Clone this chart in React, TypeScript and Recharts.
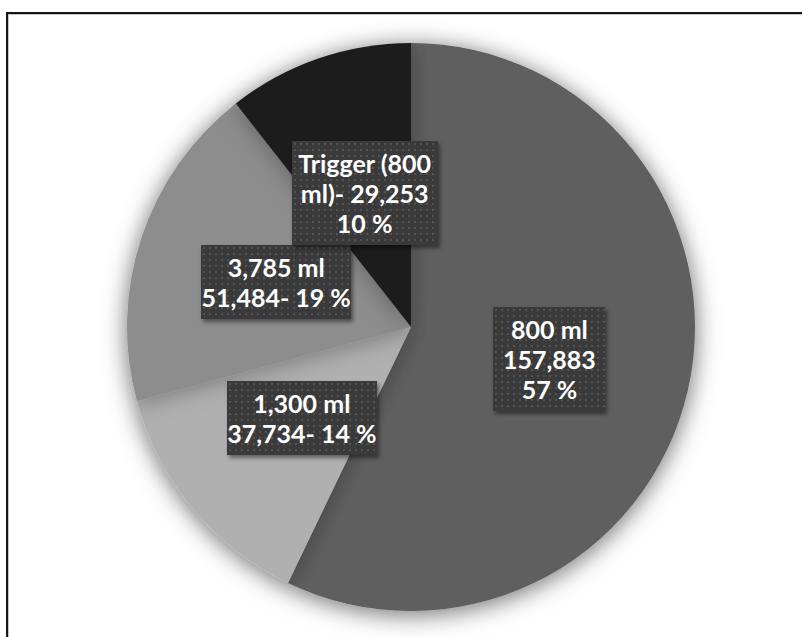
import React from "react";
import { PieChart, Pie, Cell } from "recharts";

// Bottle sizes sold, clockwise from 12 o'clock
const categories = ["800 ml", "1,300 ml", "3,785 ml", "Trigger (800 ml)"];
const bottleCounts = [157883, 37734, 51484, 29253];
const sharePercents = [57, 14, 19, 10];
const sliceColors = ["#5f5f5f", "#b0b0b0", "#8d8d8d", "#1e1e1e"];

const fmt = (n: number) => n.toLocaleString("en-US");

// Label text, wrapped the way the boxes break it
const labelLines: string[][] = [
  [categories[0], fmt(bottleCounts[0]), `${sharePercents[0]} %`],
  [categories[1], `${fmt(bottleCounts[1])}- ${sharePercents[1]} %`],
  [categories[2], `${fmt(bottleCounts[2])}- ${sharePercents[2]} %`],
  ["Trigger (800", `ml)- ${fmt(bottleCounts[3])}`, `${sharePercents[3]} %`],
];

const pieData = categories.map((name, i) => ({ name, value: bottleCounts[i] }));

// label box widths (px), one per slice
const boxWidths = [112, 150, 150, 146];

const RAD = Math.PI / 180;

const BoxLabel = (props: any) => {
  const { cx, cy, midAngle, outerRadius, index } = props;
  const r = outerRadius * 0.5;
  const x = cx + r * Math.cos(-midAngle * RAD);
  const y = cy + r * Math.sin(-midAngle * RAD);
  const w = 260;
  const h = 160;
  return (
    <foreignObject x={x - w / 2} y={y - h / 2} width={w} height={h}>
      <div
        style={{
          width: "100%",
          height: "100%",
          display: "flex",
          alignItems: "center",
          justifyContent: "center",
        }}
      >
        <div
          style={{
            boxSizing: "border-box",
            width: boxWidths[index],
            backgroundColor: "#3a3a3a",
            backgroundImage:
              "radial-gradient(circle, rgba(255,255,255,0.13) 0.8px, transparent 1.3px)",
            backgroundSize: "6px 6px",
            boxShadow: "2px 3px 4px rgba(0,0,0,0.45)",
            padding: "7px 0",
            color: "#ffffff",
            fontFamily: "Lato, 'Open Sans', sans-serif",
            fontWeight: 700,
            fontSize: 25,
            lineHeight: "30px",
            textAlign: "center",
            whiteSpace: "nowrap",
          }}
        >
          {labelLines[index].map((line, k) => (
            <div key={k}>{line}</div>
          ))}
        </div>
      </div>
    </foreignObject>
  );
};

const css = `
.main-pie { filter: url(#pieHalo); }
`;

export default function App() {
  return (
    <div
      style={{
        position: "absolute",
        left: 0,
        top: 0,
        width: 802,
        height: 637,
        overflow: "hidden",
        background: "#ffffff",
      }}
    >
      <style>{css}</style>
      <div
        style={{
          position: "absolute",
          left: 6,
          top: 12,
          width: 830,
          height: 660,
          border: "2px solid #151515",
          boxShadow: "inset 1px 1px 0 #c4c4c4",
          background: "#ffffff",
        }}
      />
      <div style={{ position: "absolute", left: 0, top: 0 }}>
        <PieChart width={802} height={637} margin={{ top: 0, right: 0, bottom: 0, left: 0 }}>
          <defs>
            {/* soft grey halo around the whole pie */}
            <filter
              id="pieHalo"
              filterUnits="userSpaceOnUse"
              x={0}
              y={0}
              width={802}
              height={637}
            >
              <feDropShadow dx={0} dy={3} stdDeviation={11} floodColor="#000000" floodOpacity={0.3} />
            </filter>
          </defs>
          <Pie
            className="main-pie"
            data={pieData}
            dataKey="value"
            cx={411}
            cy={327}
            outerRadius={284}
            startAngle={90}
            endAngle={-270}
            stroke="none"
            isAnimationActive={false}
            label={BoxLabel}
            labelLine={false}
          >
            {pieData.map((d, i) => (
              <Cell key={d.name} fill={sliceColors[i]} />
            ))}
          </Pie>
        </PieChart>
      </div>
    </div>
  );
}
